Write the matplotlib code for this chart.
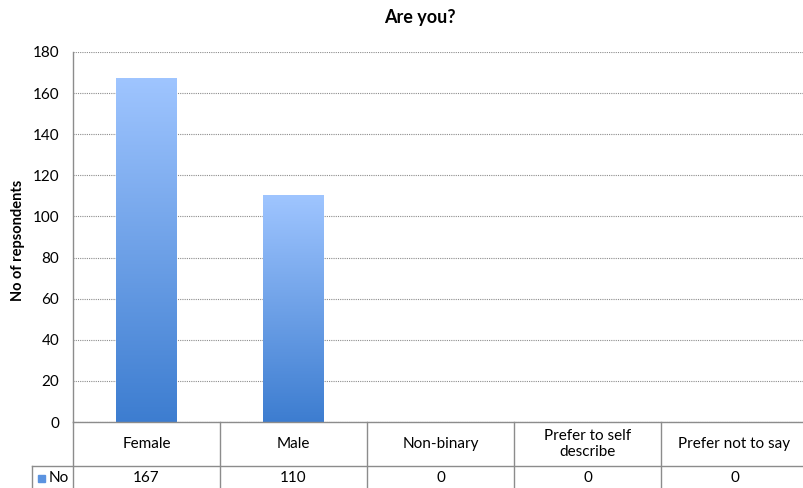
import matplotlib.pyplot as plt
import numpy as np
from matplotlib.colors import LinearSegmentedColormap
from matplotlib.lines import Line2D

categories = ["Female", "Male", "Non-binary", "Prefer to self\ndescribe", "Prefer not to say"]
counts = [167, 110, 0, 0, 0]
series_name = "No"
y_ticks = [0, 20, 40, 60, 80, 100, 120, 140, 160, 180]

plt.rcParams['font.family'] = ['Lato', 'DejaVu Sans']

W, H = 804, 488
fig = plt.figure(figsize=(W / 100, H / 100), dpi=100)

# plot area in pixel terms (runs past the right edge of the canvas)
left_px, right_px, top_px, bottom_px = 73, 808, 52, 422
ax = fig.add_axes([left_px / W, 1 - bottom_px / H,
                   (right_px - left_px) / W, (bottom_px - top_px) / H])

blues = LinearSegmentedColormap.from_list("bars", ["#3d7dd0", "#9fc5ff"])
grad = np.linspace(0, 1, 256).reshape(-1, 1)
bar_w = 0.41

for i, v in enumerate(counts):
    if v <= 0:
        continue
    ax.imshow(grad, extent=[i - bar_w / 2, i + bar_w / 2, 0, v], origin='lower',
              aspect='auto', cmap=blues, zorder=3, interpolation='bilinear')

ax.set_xlim(-0.5, len(categories) - 0.5)
ax.set_ylim(0, 180)
ax.set_yticks(y_ticks)
ax.set_yticklabels([str(t) for t in y_ticks], fontsize=11)
ax.set_xticks([])
ax.tick_params(axis='y', length=0, pad=10)
ax.yaxis.grid(True, linestyle=(0, (1, 1)), color='#8c8c8c', linewidth=0.8, zorder=1)
ax.set_axisbelow(True)
for side in ['top', 'right', 'bottom']:
    ax.spines[side].set_visible(False)
ax.spines['left'].set_color('#8c8c8c')
ax.spines['left'].set_linewidth(1.0)

fig.text(18 / W, 1 - 240 / H, "No of repsondents", rotation=90, ha='center',
         va='center', fontsize=10.5, fontweight='bold')
fig.text(420 / W, 1 - 18 / H, "Are you?", ha='center', va='center',
         fontsize=13, fontweight='bold')

# data table under the axis
def px_line(x0, y0, x1, y1):
    fig.add_artist(Line2D([x0 / W, x1 / W], [1 - y0 / H, 1 - y1 / H],
                          color='#8c8c8c', linewidth=1.0))

col_w = (right_px - left_px) / len(categories)
row1, row2 = 466, 520
px_line(left_px, bottom_px, right_px, bottom_px)
px_line(32, row1, right_px, row1)
px_line(32, row1, 32, row2)
for k in range(len(categories) + 1):
    x = left_px + k * col_w
    px_line(x, bottom_px, x, row2)

for k, (cat, v) in enumerate(zip(categories, counts)):
    xc = (left_px + (k + 0.5) * col_w) / W
    fig.text(xc, 1 - (bottom_px + row1) / 2 / H, cat, ha='center', va='center',
             fontsize=11, linespacing=1.25)
    fig.text(xc, 1 - 478 / H, str(v), ha='center', va='center', fontsize=11)

fig.add_artist(plt.Rectangle((38 / W, 1 - 482 / H), 7 / W, 7 / H,
                             color='#5b93e0', transform=fig.transFigure))
fig.text(49 / W, 1 - 478 / H, series_name, ha='left', va='center', fontsize=11)

fig.savefig("out.png", dpi=100)
